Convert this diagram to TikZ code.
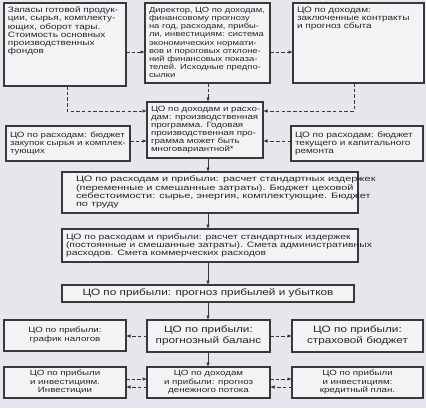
\documentclass[tikz,border=0pt]{standalone}
\usepackage{fontspec}
\setmainfont[FakeStretch=1.28]{Liberation Sans}
\newfontfamily\gfont[FakeStretch=1.4]{Liberation Sans}
\newfontfamily\hfont[FakeStretch=1.33]{Liberation Sans}
\usetikzlibrary{arrows.meta}
\definecolor{bg}{HTML}{E6E7EC}
\definecolor{boxfill}{HTML}{F3F3F5}
\definecolor{ink}{HTML}{262626}
\definecolor{edge}{HTML}{383838}
\renewcommand{\arraystretch}{1}
\newcommand{\tbox}[4][t]{\parbox[c][#3][#1]{#2}{\begin{tabular}{@{}l@{}}#4\end{tabular}}}
\newcommand{\gbox}[3]{\parbox[c][#2][c]{#1}{\hspace*{10pt}\begin{tabular}{@{}l@{}}#3\end{tabular}}}
\newcommand{\cbox}[3]{\parbox[c][#2][c]{#1}{\centering\begin{tabular}{@{}c@{}}#3\end{tabular}}}
\tikzset{
  box/.style={draw=edge, line width=1.2pt, fill=boxfill, text=ink, inner sep=4pt,
    outer sep=0pt, anchor=north west, font=\fontsize{7.8}{8.1}\selectfont},
  btext/.style={font=\fontsize{7.35}{8.1}\selectfont},
  dtext/.style={font=\fontsize{7.6}{8.1}\selectfont},
  gtext/.style={font=\gfont\fontsize{7.8}{8.1}\selectfont},
  htext/.style={font=\hfont\fontsize{7.8}{8.1}\selectfont},
  bigtext/.style={font=\fontsize{9.2}{10.4}\selectfont},
  midtext/.style={font=\fontsize{7.6}{8.4}\selectfont},
  arr/.style={draw=edge, line width=0.8pt, -{Latex[length=4.5pt,width=3.6pt]}},
  dasharr/.style={arr, dash pattern=on 3.5pt off 2.2pt}
}
\begin{document}
\begin{tikzpicture}[x=1pt,y=-1pt]
\useasboundingbox (0,0) rectangle (426,408);
\fill[bg] (0,0) rectangle (426,408);

\node[box] (A) at (4,3) {\tbox{114pt}{75pt}{Запасы готовой продук-\\ции, сырья, комплекту-\\ющих, оборот тары.\\Стоимость основных\\производственных\\фондов}};
\node[box,btext] (B) at (145,3) {\tbox{117pt}{72pt}{Директор, ЦО по доходам,\\финансовому прогнозу\\на год, расходам, прибы-\\ли, инвестициям: система\\экономических нормати-\\вов и пороговых отклоне-\\ний финансовых показа-\\телей. Исходные предпо-\\сылки}};
\node[box] (C) at (293,3) {\tbox{123pt}{72pt}{ЦО по доходам:\\заключенные контракты\\и прогноз сбыта}};
\node[box,dtext] (D) at (147,102) {\tbox[c]{108pt}{48pt}{ЦО по доходам и расхо-\\дам: производственная\\программа. Годовая\\производственная про-\\грамма может быть\\многовариантной*}};
\node[box,dtext] (E) at (6,126) {\tbox[c]{116pt}{27pt}{ЦО по расходам: бюджет\\закупок сырья и комплек-\\тующих}};
\node[box] (F) at (291,126) {\tbox[c]{124pt}{27pt}{ЦО по расходам: бюджет\\текущего и капитального\\ремонта}};
\node[box,gtext] (G) at (62,172) {\gbox{288pt}{33pt}{ЦО по расходам и прибыли: расчет стандартных издержек\\(переменные и смешанные затраты). Бюджет цеховой\\себестоимости: сырье, энергия, комплектующие. Бюджет\\по труду}};
\node[box,htext] (H) at (62,229) {\tbox[c]{288pt}{25pt}{ЦО по расходам и прибыли: расчет стандартных издержек\\(постоянные и смешанные затраты). Смета административных\\расходов. Смета коммерческих расходов}};
\node[box,bigtext] (I) at (62,285) {\cbox{284pt}{9pt}{ЦО по прибыли: прогноз прибылей и убытков}};
\node[box,midtext] (J) at (4,320) {\cbox{114pt}{23pt}{ЦО по прибыли:\\график налогов}};
\node[box,bigtext] (K) at (147,320) {\cbox{115pt}{24pt}{ЦО по прибыли:\\прогнозный баланс}};
\node[box,bigtext] (L) at (292,320) {\cbox{123pt}{24pt}{ЦО по прибыли:\\страховой бюджет}};
\node[box,midtext] (M) at (4,367) {\cbox{114pt}{23pt}{ЦО по прибыли\\и инвестициям.\\Инвестиции}};
\node[box,midtext] (N) at (147,367) {\cbox{115pt}{23pt}{ЦО по доходам\\и прибыли: прогноз\\денежного потока}};
\node[box,midtext] (O) at (292,367) {\cbox{123pt}{23pt}{ЦО по прибыли\\и инвестициям:\\кредитный план.}};

\draw[dasharr] (A.east |- 0,52) -- (B.west |- 0,52);
\draw[dasharr] (B.east |- 0,52) -- (C.west |- 0,52);
\draw[dasharr] (A.south -| 67,0) |- (D.west |- 0,111);
\draw[dasharr] (C.south -| 354,0) |- (D.east |- 0,111);
\draw[dasharr] (B.south -| 208,0) -- (D.north -| 208,0);
\draw[dasharr] (E.east |- 0,141) -- (D.west |- 0,141);
\draw[dasharr] (F.west |- 0,141) -- (D.east |- 0,141);
\draw[arr] (D.south -| 208,0) -- (G.north -| 208,0);
\draw[arr] (G.south -| 208,0) -- (H.north -| 208,0);
\draw[arr] (H.south -| 208,0) -- (I.north -| 208,0);
\draw[arr] (I.south -| 208,0) -- (K.north -| 208,0);
\draw[arr] (K.south -| 208,0) -- (N.north -| 208,0);
\draw[dasharr] (K.west) -- (J.east |- K.west);
\draw[dasharr] (K.east) -- (L.west |- K.east);
\draw[dasharr] (M.east |- 0,379) -- (N.west |- 0,379);
\draw[dasharr] (N.west |- 0,387) -- (M.east |- 0,387);
\draw[dasharr] (N.east |- 0,379) -- (O.west |- 0,379);
\draw[dasharr] (O.west |- 0,387) -- (N.east |- 0,387);
\end{tikzpicture}
\end{document}
